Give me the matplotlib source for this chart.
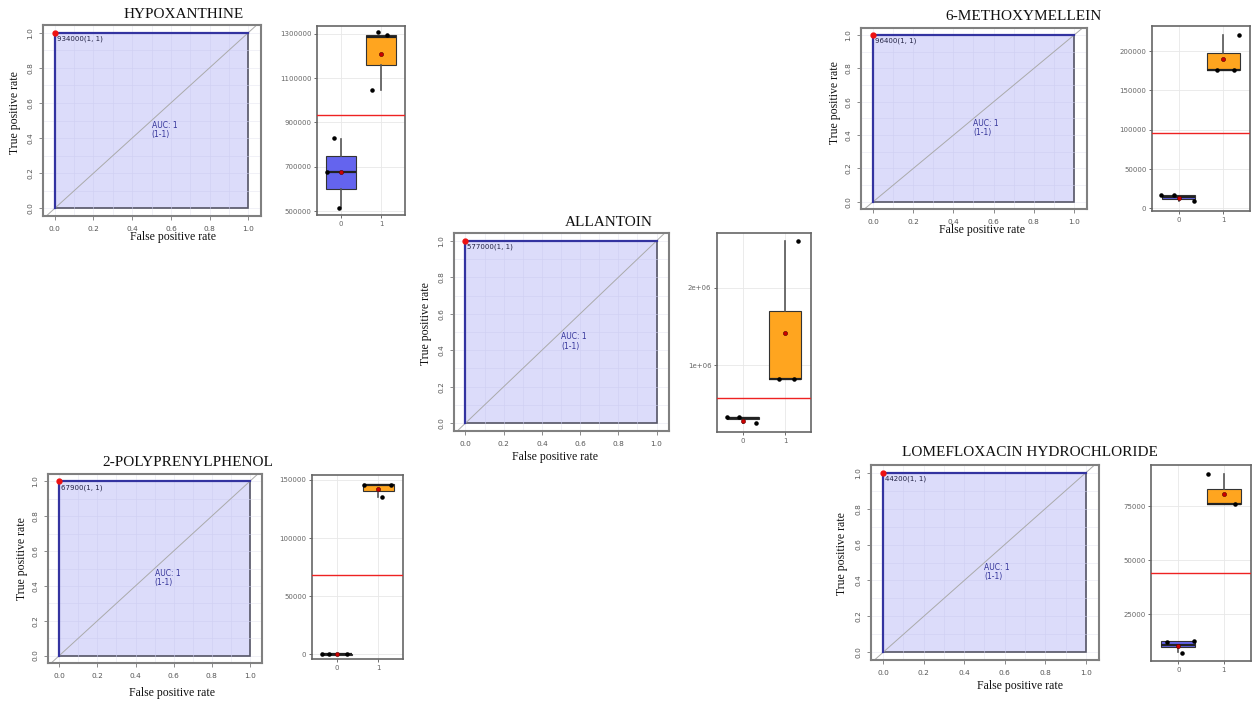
import matplotlib
matplotlib.use('Agg')
import matplotlib.pyplot as plt
import numpy as np

W, H = 1253, 702

titles = ['HYPOXANTHINE', 'ALLANTOIN', '6-METHOXYMELLEIN',
          '2-POLYPRENYLPHENOL', 'LOMEFLOXACIN HYDROCHLORIDE']
thresholds = [934000, 577000, 96400, 67900, 44200]
auc_text = 'AUC: 1\n(1-1)'

# ROC curve (fpr, tpr) - same for every metabolite, AUC = 1
roc_fpr = [0.0, 0.0, 1.0]
roc_tpr = [0.0, 1.0, 1.0]

# box stats per panel: group -> (whislo, q1, med, q3, whishi, mean)
box_g0 = [
    (519000, 600000, 678000, 750000, 825000, 676000),
    (255000, 297000, 315000, 331000, 331000, 280000),
    (9000, 12400, 15000, 17400, 17400, 13000),
    (0, -400, 0, 400, 0, 0),
    (7500, 9800, 11000, 12600, 12600, 10500),
]
box_g1 = [
    (1045000, 1160000, 1285000, 1297000, 1297000, 1210000),
    (820000, 820000, 820000, 1700000, 2600000, 1410000),
    (176000, 176000, 176000, 198000, 221000, 190500),
    (135500, 140800, 146000, 146300, 146300, 142300),
    (76000, 76000, 76000, 83000, 90000, 80500),
]
# jittered sample points (x, value)
pts = [
    [(-0.34, 675000), (-0.17, 830000), (-0.05, 515000),
     (0.78, 1045000), (0.93, 1310000), (1.15, 1295000)],
    [(-0.36, 330000), (-0.08, 330000), (0.32, 254000),
     (0.85, 820000), (1.2, 820000), (1.3, 2600000)],
    [(-0.4, 17000), (-0.1, 17000), (0.35, 9000),
     (0.85, 176000), (1.25, 176000), (1.35, 221000)],
    [(-0.35, 0), (-0.2, 0), (0.25, 0),
     (0.65, 146000), (1.3, 146000), (1.1, 135500)],
    [(-0.25, 12000), (0.35, 12500), (0.08, 7000),
     (0.65, 90000), (1.25, 76000)],
]
ylims = [(482000, 1336000), (133000, 2710000), (-3400, 232000),
         (-3950, 154300), (3400, 94000)]
yticks = [[500000, 700000, 900000, 1100000, 1300000],
          [1000000, 2000000],
          [0, 50000, 100000, 150000, 200000],
          [0, 50000, 100000, 150000],
          [25000, 50000, 75000]]
ytick_labels = [[str(v) for v in t] for t in yticks]
ytick_labels[1] = ['1e+06', '2e+06']

# layout in pixels: (left, top, right, bottom)
roc_px = [(43, 25, 261, 216), (454, 233, 669, 431), (861, 28, 1087, 209),
          (48, 474, 262, 663), (871, 465, 1099, 660)]
box_px = [(317, 26, 405, 215), (717, 233, 811, 432), (1152, 26, 1250, 211),
          (312, 475, 403, 659), (1151, 465, 1251, 661)]
title_px = [(184, 14), (609, 222), (1024, 16), (188, 463), (1030, 452)]
xlab_px = [(173, 237), (555, 457), (982, 230), (172, 693), (1020, 686)]
ylab_px = [(15, 113), (426, 324), (835, 103), (22, 559), (842, 554)]

SERIF = 'Liberation Serif'
GRAY = '#555555'


def rect(p):
    l, t, r, b = p
    return [l / W, 1 - b / H, (r - l) / W, (b - t) / H]


def fig_xy(p):
    return p[0] / W, 1 - p[1] / H


fig = plt.figure(figsize=(W / 100, H / 100), dpi=100)

for i in range(5):
    # ---- ROC panel ----
    ax = fig.add_axes(rect(roc_px[i]))
    ax.set_xlim(-0.06, 1.065)
    ax.set_ylim(-0.043, 1.043)
    for g in np.arange(0, 1.01, 0.1):
        ax.axvline(g, color='#ececf4', lw=0.5, zorder=0)
        ax.axhline(g, color='#ececf4', lw=0.5, zorder=0)
    ax.fill([0, 0, 1, 1], [0, 1, 1, 0], facecolor='#dcdcfa', edgecolor='#555566',
            lw=1.2, zorder=1)
    for g in np.arange(0.1, 1.0, 0.1):
        ax.plot([g, g], [0, 1], color='#cfcff2', lw=0.4, zorder=1.5)
        ax.plot([0, 1], [g, g], color='#cfcff2', lw=0.4, zorder=1.5)
    ax.axline((0, 0), (1, 1), color='#aaaaaa', lw=0.7, zorder=2)
    ax.plot(roc_fpr, roc_tpr, color='#3333a0', lw=1.6, zorder=3)
    ax.plot([0], [1], 'o', color='#ee1111', ms=3.5, zorder=4)
    ax.text(0.01, 0.985, '%d(1, 1)' % thresholds[i], fontsize=5, color='#222244',
            ha='left', va='top', zorder=5)
    ax.text(0.5, 0.5, auc_text, fontsize=5.5, color='#333399', ha='left',
            va='top', linespacing=1.1, zorder=5)
    for s in ax.spines.values():
        s.set_color('#808080')
        s.set_linewidth(1.5)
    ax.set_xticks([0, 0.2, 0.4, 0.6, 0.8, 1.0])
    ax.set_yticks([0, 0.2, 0.4, 0.6, 0.8, 1.0])
    ax.set_xticklabels(['0.0', '0.2', '0.4', '0.6', '0.8', '1.0'])
    ax.set_yticklabels(['0.0', '0.2', '0.4', '0.6', '0.8', '1.0'],
                       rotation=90, va='center')
    ax.tick_params(labelsize=5.3, colors='#777777', labelcolor=GRAY, length=3,
                   width=0.6, pad=4)

    fig.text(*fig_xy(title_px[i]), titles[i], family=SERIF, fontsize=11,
             ha='center', va='center', color='#111111')
    fig.text(*fig_xy(xlab_px[i]), 'False positive rate', family=SERIF,
             fontsize=8.5, ha='center', va='center', color='#111111')
    fig.text(*fig_xy(ylab_px[i]), 'True positive rate', family=SERIF,
             fontsize=8.5, ha='center', va='center', rotation=90,
             color='#111111')

    # ---- box panel ----
    bx = fig.add_axes(rect(box_px[i]))
    stats = []
    for s, lab in ((box_g0[i], '0'), (box_g1[i], '1')):
        stats.append(dict(whislo=s[0], q1=s[1], med=s[2], q3=s[3],
                          whishi=s[4], mean=s[5], label=lab, fliers=[]))
    bp = bx.bxp(stats, positions=[0, 1], widths=0.75, patch_artist=True,
                showcaps=False, showfliers=False, showmeans=False,
                medianprops=dict(color='#222222', lw=1.6),
                whiskerprops=dict(color='#555555', lw=1.2),
                boxprops=dict(edgecolor='#333333', lw=0.8), zorder=2)
    bp['boxes'][0].set_facecolor('#6464ee')
    bp['boxes'][1].set_facecolor('#ffa51f')
    px = [p[0] for p in pts[i]]
    py = [p[1] for p in pts[i]]
    bx.scatter(px, py, s=5, color='black', zorder=4)
    bx.scatter([0, 1], [box_g0[i][5], box_g1[i][5]], s=9, color='#cc0000',
               edgecolor='#550000', linewidth=0.4, zorder=5)
    bx.axhline(thresholds[i], color='#ee2222', lw=1.0, zorder=3)
    bx.set_xlim(-0.6, 1.6)
    bx.set_ylim(*ylims[i])
    bx.set_xticks([0, 1])
    bx.set_xticklabels(['0', '1'])
    bx.set_yticks(yticks[i])
    bx.set_yticklabels(ytick_labels[i])
    bx.grid(True, color='#e8e8e8', lw=0.6, zorder=0)
    bx.set_axisbelow(True)
    for s in bx.spines.values():
        s.set_color('#666666')
        s.set_linewidth(1.2)
    bx.tick_params(labelsize=5, colors='#555555', labelcolor='#666666',
                   length=2, width=0.6, pad=2)

fig.savefig('out.png', dpi=100, facecolor='white')
